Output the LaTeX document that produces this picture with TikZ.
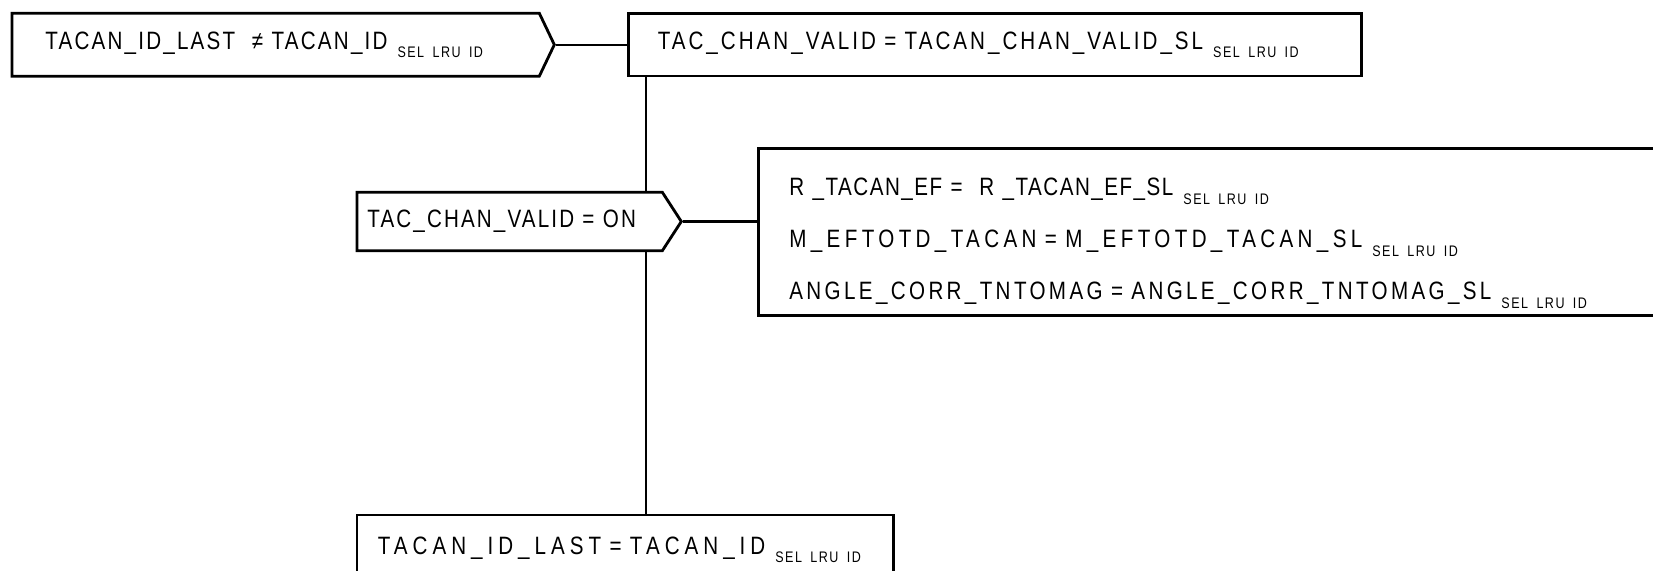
\documentclass[tikz,border=0pt]{standalone}
\usepackage{fontspec}
\usetikzlibrary{positioning,shapes.symbols}
\newfontfamily\diagfont{Liberation Sans}[FakeStretch=0.82]
\newfontfamily\lrufam{Liberation Sans}[FakeStretch=0.82,LetterSpace=9.8]
\newcommand{\lrufont}{\lrufam\fontsize{8.7}{10}\selectfont}
\newcommand{\lru}{\hspace{0.2cm}\raisebox{-4.9pt}{\lrufont SEL LRU ID}}

\begin{document}
\begin{tikzpicture}[x=0.02cm, y=-0.02cm,
  track/.style={font=\diagfont\fontsize{14.3}{29.6}\selectfont\addfontfeature{LetterSpace=#1}},
  box/.style={draw, line width=1.6pt, fill=white, align=left, inner ysep=0pt},
  cond/.style={box, signal, signal to=east},
  line/.style={line width=1.3pt}]
  \useasboundingbox (0,0) rectangle (1653,571);
  \clip (0,0) rectangle (1653,571);
  \node[cond, track=8.8, signal pointer angle=129, minimum height=1.26cm, inner xsep=0.67cm, text width=9.21cm, anchor=west] (idlast) at (10.5,44.7) {TACAN\_ID\_LAST \ ≠ TACAN\_ID\lru};
  \node[box, track=12, minimum height=1.254cm, inner xsep=0.59cm, text width=13.48cm, right=1.42cm of idlast] (chanvalid) {TAC\_CHAN\_VALID = TACAN\_CHAN\_VALID\_SL\lru};
  \node[cond, track=8.5, signal pointer angle=114, minimum height=1.168cm, inner xsep=0.21cm, text width=5.69cm, anchor=west] (chanon) at (355.5,221.5) {TAC\_CHAN\_VALID = ON};
  \node[box, track=6, minimum height=3.35cm, inner xsep=0.62cm, text width=17.68cm, right=1.48cm of chanon, yshift=-0.21cm] (copy) {\rule{0pt}{0.8cm}R \_TACAN\_EF = \ R \_TACAN\_EF\_SL\lru\\
    \addfontfeature{LetterSpace=17.4}M\_EFTOTD\_TACAN = M\_EFTOTD\_TACAN\_SL\lru\\
    \addfontfeature{LetterSpace=13.4}ANGLE\_CORR\_TNTOMAG = ANGLE\_CORR\_TNTOMAG\_SL\lru};
  \node[box, track=19.9, minimum height=1.4cm, inner xsep=0.42cm, text width=9.9cm, anchor=north west] (idsave) at (355.5,513.5) {TACAN\_ID\_LAST = TACAN\_ID\lru};
  % connectors
  \draw[line] (idlast.east) -- (idlast.east -| chanvalid.west);
  \draw[line] (chanon.east) -- (chanon.east -| copy.west);
  \path (chanvalid.south west) ++(19,0) coordinate (trunk);
  \draw[line] (trunk) -- (trunk |- chanon.north);
  \draw[line] (trunk |- chanon.south) -- (trunk |- idsave.north);
\end{tikzpicture}
\end{document}
